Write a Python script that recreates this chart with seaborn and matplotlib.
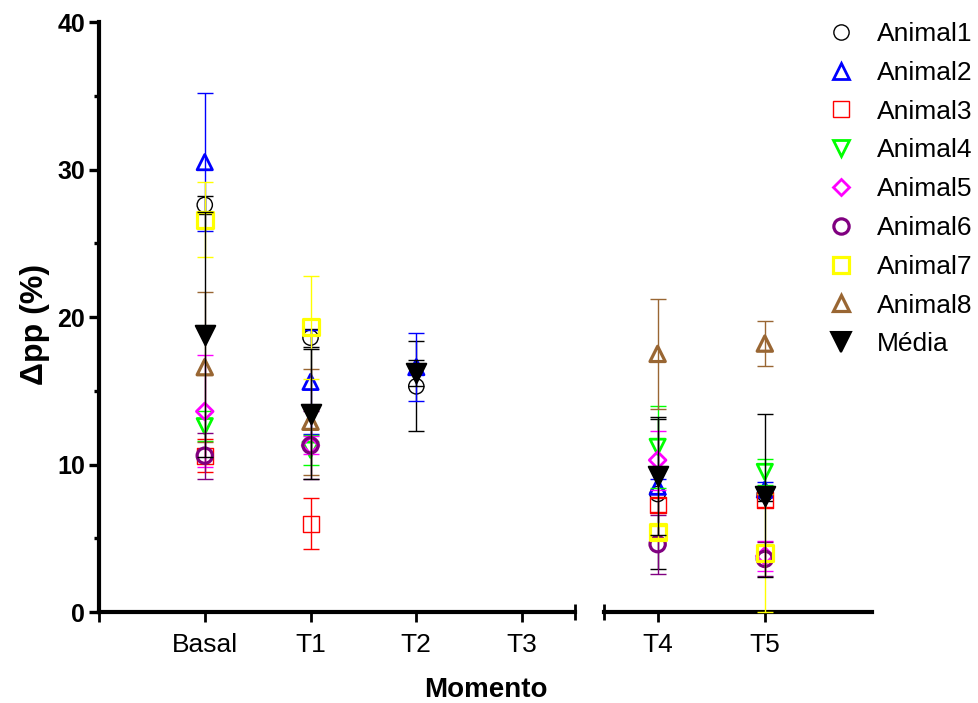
import numpy as np
import pandas as pd
import matplotlib
matplotlib.use("Agg")
import matplotlib.pyplot as plt
import seaborn as sns
from matplotlib.lines import Line2D

nan = np.nan

# Momentos (T3 has no measurements)
moments = ['Basal', 'T1', 'T2', 'T3', 'T4', 'T5']
x_pos = [1, 2, 3, 4, 5, 6]

# mean and SD per animal
animal1 = [27.6, 18.6, 15.3, nan, 8.0, 8.0]
animal1_sd = [0.6, 0.6, 3.05, nan, 5.1, 0.5]
animal2 = [30.5, 15.6, 16.6, nan, 8.5, 8.3]
animal2_sd = [4.7, 3.5, 2.3, nan, 0.5, 0.5]
animal3 = [10.6, 6.0, nan, nan, 7.25, 7.6]
animal3_sd = [1.1, 1.7, nan, nan, 0.5, 0.5]
animal4 = [12.6, 11.0, nan, nan, 11.2, 9.5]
animal4_sd = [1.0, 1.0, nan, nan, 2.8, 0.9]
animal5 = [13.6, 11.3, nan, nan, 10.3, 3.8]
animal5_sd = [3.8, 0.6, nan, nan, 2.0, 1.0]
animal6 = [10.6, 11.3, nan, nan, 4.6, 3.6]
animal6_sd = [1.55, 2.3, nan, nan, 2.0, 1.15]
animal7 = [26.6, 19.3, nan, nan, 5.4, 4.0]
animal7_sd = [2.55, 3.5, nan, nan, 0.4, 4.0]
animal8 = [16.6, 12.9, nan, nan, 17.5, 18.2]
animal8_sd = [5.1, 3.6, nan, nan, 3.75, 1.55]
media = [18.8, 13.4, 16.2, nan, 9.2, 7.9]
media_sd = [8.3, 4.4, 0.9, nan, 4.0, 5.5]

series_names = ['Animal1', 'Animal2', 'Animal3', 'Animal4', 'Animal5',
                'Animal6', 'Animal7', 'Animal8', 'Média']
series_vals = [animal1, animal2, animal3, animal4, animal5,
               animal6, animal7, animal8, media]
series_sd = [animal1_sd, animal2_sd, animal3_sd, animal4_sd, animal5_sd,
             animal6_sd, animal7_sd, animal8_sd, media_sd]

# style per series: color, marker, size (pt), edge width, filled
styles = {
    'Animal1': ('black', 'o', 11, 1.0, False),
    'Animal2': ('#0000ff', '^', 11, 2.0, False),
    'Animal3': ('#ff0000', 's', 11.5, 1.0, False),
    'Animal4': ('#00ff00', 'v', 11, 2.0, False),
    'Animal5': ('#ff00ff', 'D', 8.5, 2.0, False),
    'Animal6': ('#800080', 'o', 11, 2.3, False),
    'Animal7': ('#ffff00', 's', 11.5, 2.3, False),
    'Animal8': ('#996633', '^', 11, 2.3, False),
    'Média': ('black', 'v', 14, 1.5, True),
}

rows = []
for name, vals, sds in zip(series_names, series_vals, series_sd):
    for m, x, v, s in zip(moments, x_pos, vals, sds):
        rows.append({'serie': name, 'momento': m, 'x': x, 'valor': v, 'sd': s})
df = pd.DataFrame(rows).dropna()

sns.set_style("ticks")
plt.rcParams['font.family'] = ['Liberation Sans', 'DejaVu Sans']
plt.rcParams.update({'text.color': 'black', 'axes.edgecolor': 'black',
                     'axes.labelcolor': 'black', 'xtick.color': 'black',
                     'ytick.color': 'black'})

fig = plt.figure(figsize=(9.79, 7.03), dpi=100)
ax1 = fig.add_axes([0.1011, 0.1294, 0.4862, 0.8393])
ax2 = fig.add_axes([0.6170, 0.1294, 0.2737, 0.8393])

for i, name in enumerate(series_names):
    color, marker, size, lw, filled = styles[name]
    d = df[df['serie'] == name]
    for ax, part in ((ax1, d[d['x'] <= 4]), (ax2, d[d['x'] >= 5])):
        if part.empty:
            continue
        z = 3 + i
        ax.errorbar(part['x'], part['valor'], yerr=part['sd'], fmt='none',
                    ecolor=color, elinewidth=1.0, capsize=6, capthick=1.0,
                    zorder=z, clip_on=False)
        sns.scatterplot(x=part['x'], y=part['valor'], ax=ax, marker=marker,
                        s=size ** 2, color=color,
                        facecolor=color if filled else 'none',
                        edgecolor=color, linewidth=lw, zorder=z + 0.5,
                        clip_on=False, legend=False)

for ax in (ax1, ax2):
    ax.set_ylim(0, 40)
    ax.set_xlabel('')
    ax.set_ylabel('')
    for s in ('top', 'right'):
        ax.spines[s].set_visible(False)
    ax.spines['bottom'].set_linewidth(3.0)
    ax.spines['left'].set_linewidth(3.0)
    ax.tick_params(axis='x', direction='out', length=7, width=2.0,
                   labelsize=19, pad=8)

ax1.set_xlim(0, 4.5)
ax1.set_xticks([0, 1, 2, 3, 4])
ax1.set_xticklabels([''] + moments[:4])
ax1.set_xticks([4.5], minor=True)
ax1.tick_params(axis='x', which='minor', direction='inout', length=12, width=2.0)
ax1.set_yticks([0, 10, 20, 30, 40])
ax1.set_yticks([5, 15, 25, 35], minor=True)
ax1.tick_params(axis='y', which='major', direction='out', length=7, width=2.4,
                labelsize=18, pad=3)
ax1.tick_params(axis='y', which='minor', direction='out', length=3.5, width=2.4)
for lab in ax1.get_yticklabels():
    lab.set_fontweight('bold')

ax2.set_xlim(4.5, 7)
ax2.set_xticks([5, 6])
ax2.set_xticklabels(moments[4:])
ax2.set_xticks([4.5], minor=True)
ax2.tick_params(axis='x', which='minor', direction='inout', length=12, width=2.0)
ax2.spines['left'].set_visible(False)
ax2.set_yticks([])

fig.text(0.496, 0.018, 'Momento', ha='center', va='center',
         fontsize=20, fontweight='bold')
fig.text(0.036, 0.538, 'Δpp (%)', ha='center', va='center', rotation=90,
         fontsize=23, fontweight='bold')

handles = []
for name in series_names:
    color, marker, size, lw, filled = styles[name]
    handles.append(Line2D([], [], linestyle='none', marker=marker,
                          markersize=size, markeredgewidth=lw,
                          markeredgecolor=color,
                          markerfacecolor=color if filled else 'none'))
fig.legend(handles, series_names, loc='upper left',
           bbox_to_anchor=(0.8458, 0.9685), frameon=False, fontsize=19,
           handlelength=1.0, handletextpad=0.85, labelspacing=0.56,
           borderpad=0, borderaxespad=0)

fig.savefig('out.png', dpi=100)
